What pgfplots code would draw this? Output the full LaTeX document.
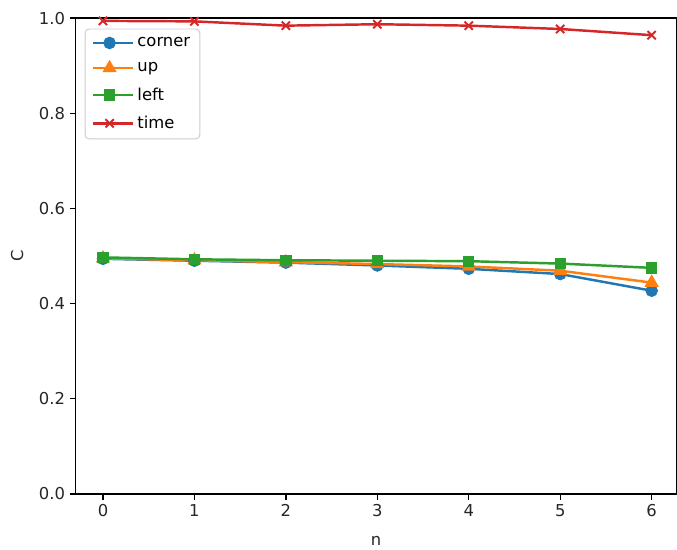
\documentclass[border=0pt]{standalone}
\usepackage{fontspec}
\setmainfont{DejaVu Sans}
\usepackage{pgfplots}
\pgfplotsset{compat=1.18}
\definecolor{tabblue}{HTML}{1F77B4}
\definecolor{taborange}{HTML}{FF7F0E}
\definecolor{tabgreen}{HTML}{2CA02C}
\definecolor{tabred}{HTML}{D62728}
\begin{document}
\begin{tikzpicture}
\begin{axis}[
  scale only axis,
  width=432.7pt, height=342.7pt,
  xmin=-0.3, xmax=6.27, ymin=0, ymax=1,
  xtick={0,1,2,3,4,5,6},
  ytick={0,0.2,0.4,0.6,0.8,1.0},
  yticklabel style={/pgf/number format/fixed,/pgf/number format/fixed zerofill,/pgf/number format/precision=1},
  /pgf/number format/assume math mode=true,
  tick align=outside, tick pos=left,
  major tick length=4.1pt,
  tick style={black, line width=0.94pt},
  axis line style={line width=0.94pt},
  ticklabel style={font=\fontsize{11.8}{14}\selectfont, text=black!85},
  xlabel={n}, ylabel={C},
  label style={font=\fontsize{11.8}{14}\selectfont, text=black!85},
  xlabel style={yshift=-7pt},
  ylabel style={yshift=4.3pt},
  legend style={at={(rel axis cs:0.015,0.978)}, anchor=north west, draw=black!20, rounded corners=3pt, font=\fontsize{11.8}{14}\selectfont, row sep=6.0pt, inner xsep=5pt, inner ysep=4pt, line width=0.7pt},
  legend cell align=left,
  legend image code/.code={\draw[mark repeat=2,mark phase=2] plot coordinates {(0pt,0pt)(11.8pt,0pt)(23.6pt,0pt)};\path (0pt,0pt) -- (29pt,0pt);},
  every axis plot/.append style={line width=1.77pt},
]
\addplot[color=tabblue, mark=*, mark size=3.6pt] coordinates {(0,0.494)(1,0.490)(2,0.486)(3,0.480)(4,0.473)(5,0.462)(6,0.427)};
\addlegendentry{corner}
\addplot[color=taborange, mark=triangle*, mark size=4.2pt] coordinates {(0,0.495)(1,0.491)(2,0.487)(3,0.483)(4,0.478)(5,0.469)(6,0.444)};
\addlegendentry{up}
\addplot[color=tabgreen, mark=square*, mark size=3.2pt] coordinates {(0,0.497)(1,0.493)(2,0.491)(3,0.490)(4,0.489)(5,0.484)(6,0.475)};
\addlegendentry{left}
\addplot[color=tabred, mark=x, mark size=4.2pt, mark options={line width=1.4pt}] coordinates {(0,0.994)(1,0.993)(2,0.984)(3,0.987)(4,0.984)(5,0.977)(6,0.964)};
\addlegendentry{time}
\end{axis}
\path (current axis.south west) ++(-54.4pt,-39.6pt) coordinate (bl);
\path (current axis.north east) ++(0pt,13pt) coordinate (tr);
\path (bl) rectangle (tr);
\end{tikzpicture}
\end{document}
